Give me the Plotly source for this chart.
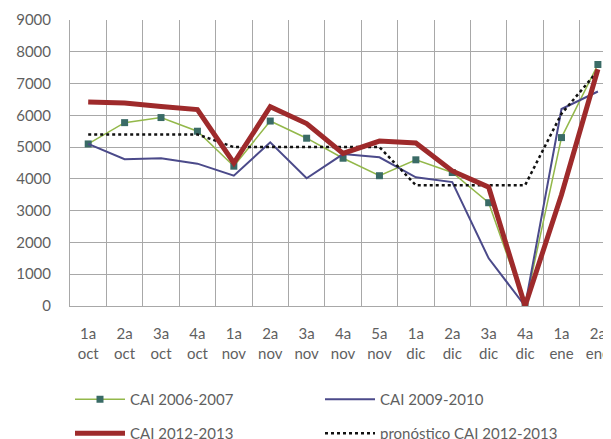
import plotly.graph_objects as go

categories = ["1a<br>oct", "2a<br>oct", "3a<br>oct", "4a<br>oct", "1a<br>nov", "2a<br>nov",
              "3a<br>nov", "4a<br>nov", "5a<br>nov", "1a<br>dic", "2a<br>dic", "3a<br>dic",
              "4a<br>dic", "1a<br>ene", "2a<br>ene"]

cai_2006_2007 = [5100, 5770, 5930, 5500, 4400, 5820, 5280, 4650, 4100, 4600, 4200, 3250, 0, 5300, 7600]
cai_2009_2010 = [5100, 4620, 4650, 4480, 4100, 5150, 4020, 4780, 4680, 4050, 3900, 1500, 0, 6200, 6750]
cai_2012_2013 = [6420, 6390, 6280, 6180, 4500, 6270, 5740, 4800, 5190, 5130, 4250, 3740, 0, 3500, 7450]
pronostico_2012_2013 = [5400, 5400, 5400, 5400, 5000, 5000, 5000, 5000, 5000, 3800, 3800, 3800, 3800, 6050, 7400]

y_ticks = [0, 1000, 2000, 3000, 4000, 5000, 6000, 7000, 8000, 9000]

FONT = "Lato, 'Open Sans', sans-serif"
TXT = "#5f5f5f"
GRID = "#a8a8a8"

fig = go.Figure()
fig.add_trace(go.Scatter(
    x=categories, y=cai_2006_2007, name="CAI 2006-2007", mode="lines+markers",
    line=dict(color="#93b84a", width=1.5),
    marker=dict(symbol="square", size=7, color="#3a6b66"),
    legend="legend", legendrank=1))
fig.add_trace(go.Scatter(
    x=categories, y=cai_2009_2010, name="CAI 2009-2010", mode="lines",
    line=dict(color="#4b4a8a", width=2),
    legend="legend", legendrank=2))
fig.add_trace(go.Scatter(
    x=categories, y=pronostico_2012_2013, name="pronóstico CAI 2012-2013", mode="lines",
    line=dict(color="#111111", width=2.5, dash="dot"),
    legend="legend2", legendrank=2))
fig.add_trace(go.Scatter(
    x=categories, y=cai_2012_2013, name="CAI 2012-2013", mode="lines",
    line=dict(color="#9e2a2b", width=5),
    legend="legend2", legendrank=1))

# page body has an 8px default margin, so the figure is sized to fill the rest
W, H = 603, 431
legend_common = dict(
    xref="container", yref="container", orientation="h",
    xanchor="left", yanchor="top",
    entrywidth=185, itemwidth=50, bgcolor="rgba(0,0,0,0)",
    font=dict(family=FONT, size=15, color=TXT), traceorder="normal")

fig.update_layout(
    width=W, height=H,
    paper_bgcolor="white", plot_bgcolor="white",
    margin=dict(l=62, r=0, t=12, b=133, autoexpand=False),
    font=dict(family=FONT, size=15, color=TXT),
    showlegend=True,
    legend=dict(x=62 / W, y=1 - 375 / H, **legend_common),
    legend2=dict(x=62 / W, y=1 - 409 / H, **legend_common),
    xaxis=dict(
        type="category", range=[-0.5, 14.36],
        tickson="boundaries", showgrid=True, gridcolor=GRID, gridwidth=1,
        showline=True, linecolor=GRID, linewidth=1,
        ticks="", tickfont=dict(family=FONT, size=15, color=TXT),
        ticklabelstandoff=14, zeroline=False),
    yaxis=dict(
        range=[0, 9000], tickvals=y_ticks, ticktext=[str(v) for v in y_ticks],
        showgrid=True, gridcolor=GRID, gridwidth=1,
        showline=True, linecolor=GRID, linewidth=1,
        ticks="", tickfont=dict(family=FONT, size=15, color=TXT),
        ticklabelstandoff=15, zeroline=False),
)

fig.write_html("out.html")
